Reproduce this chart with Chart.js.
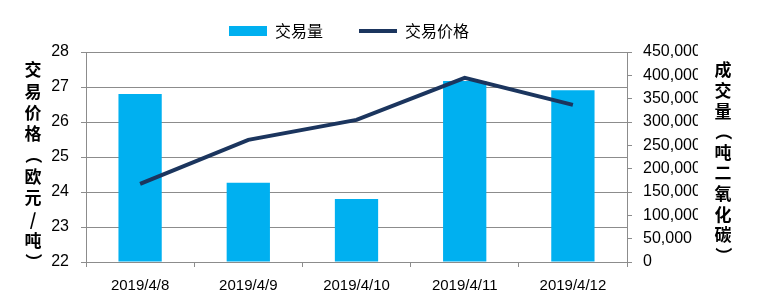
<!DOCTYPE html>
<html>
<head>
<meta charset="utf-8">
<script src="https://cdn.jsdelivr.net/npm/chart.js@4/dist/chart.umd.min.js"></script>
<style>
  body { margin: 0; background: #fff; }
</style>
</head>
<body>
<canvas id="myChart" width="765" height="303"></canvas>
<script>
var categories = ['2019/4/8', '2019/4/9', '2019/4/10', '2019/4/11', '2019/4/12'];
var volume = [360000, 170000, 135000, 388000, 368000];
var price = [24.23, 25.49, 26.06, 27.26, 26.49];
var leftTitle = '交易价格（欧元/吨）';
var rightTitle = '成交量（吨二氧化碳）';

var barColor = '#00B0F0';
var lineColor = '#1B355E';
var gridColor = '#8C8C8C';
var tickFont = { family: '"Liberation Sans", Arial, sans-serif', size: 16 };

// vertical stacked axis titles, and a fixed legend height
var verticalTitles = {
  id: 'verticalTitles',
  afterInit: function (chart) {
    var fit = chart.legend.fit;
    chart.legend.fit = function () {
      fit.call(this);
      this.height = 65;
    };
  },
  afterDraw: function (chart) {
    var ctx = chart.ctx;
    ctx.save();
    ctx.font = 'bold 17px "Noto Sans CJK SC"';
    ctx.fillStyle = '#000';
    ctx.textAlign = 'center';
    ctx.textBaseline = 'middle';
    function column(text, x, y, step) {
      Array.from(text).forEach(function (ch, i) {
        var cy = y + i * step;
        if (ch === '（' || ch === '）') {
          ctx.save();
          ctx.translate(x, cy);
          ctx.rotate(Math.PI / 2);
          ctx.fillText(ch, 0, 0);
          ctx.restore();
        } else {
          ctx.fillText(ch, x, cy);
        }
      });
    }
    column(leftTitle, 33, 70, 21.3);
    column(rightTitle, 723, 70, 20.6);
    ctx.restore();
  }
};

var data = {
  labels: categories,
  datasets: [
    {
      type: 'bar',
      label: '交易量',
      data: volume,
      yAxisID: 'yRight',
      backgroundColor: barColor,
      borderWidth: 0,
      categoryPercentage: 0.4,
      barPercentage: 1,
      order: 2
    },
    {
      type: 'line',
      label: '交易价格',
      data: price,
      yAxisID: 'yLeft',
      borderColor: lineColor,
      backgroundColor: lineColor,
      borderWidth: 4,
      pointRadius: 0,
      tension: 0,
      order: 1
    }
  ]
};

var options = {
  responsive: false,
  animation: false,
  layout: { padding: { top: -13, right: 67, left: 0, bottom: 0 } },
  plugins: {
    tooltip: { enabled: false },
    legend: {
      position: 'top',
      labels: {
        usePointStyle: true,
        pointStyleWidth: 38,
        boxHeight: 10,
        padding: 36,
        color: '#000',
        font: { family: '"Noto Sans CJK SC"', size: 16 },
        generateLabels: function (chart) {
          var items = Chart.defaults.plugins.legend.labels.generateLabels(chart);
          items.forEach(function (item) {
            if (item.datasetIndex === 0) {
              item.pointStyle = 'rect';
              item.fillStyle = barColor;
              item.lineWidth = 0;
            } else {
              item.pointStyle = 'line';
              item.lineWidth = 4;
              item.strokeStyle = lineColor;
            }
          });
          items.sort(function (a, b) { return a.datasetIndex - b.datasetIndex; });
          return items;
        }
      }
    }
  },
  scales: {
    x: {
      grid: { offset: true, drawOnChartArea: false, tickLength: 5, color: gridColor },
      border: { color: gridColor },
      ticks: { color: '#000', font: { family: tickFont.family, size: 15 }, padding: 10, maxRotation: 0 },
      afterFit: function (scale) { scale.height = 41; }
    },
    yLeft: {
      position: 'left',
      min: 22,
      max: 28,
      ticks: { stepSize: 1, color: '#000', font: tickFont, padding: 12 },
      grid: { color: gridColor, tickLength: 5 },
      border: { color: gridColor },
      afterFit: function (scale) { scale.width = 86; }
    },
    yRight: {
      position: 'right',
      min: 0,
      max: 450000,
      ticks: {
        stepSize: 50000,
        color: '#000',
        font: tickFont,
        padding: 11,
        callback: function (v) { return v.toLocaleString('en-US'); }
      },
      grid: { drawOnChartArea: false, color: gridColor, tickLength: 5 },
      border: { color: gridColor },
      afterFit: function (scale) { scale.width = 71; }
    }
  }
};

var ctx = document.getElementById('myChart').getContext('2d');
var myChart = new Chart(ctx, {
  data: data,
  options: options,
  plugins: [verticalTitles]
});
</script>
</body>
</html>
